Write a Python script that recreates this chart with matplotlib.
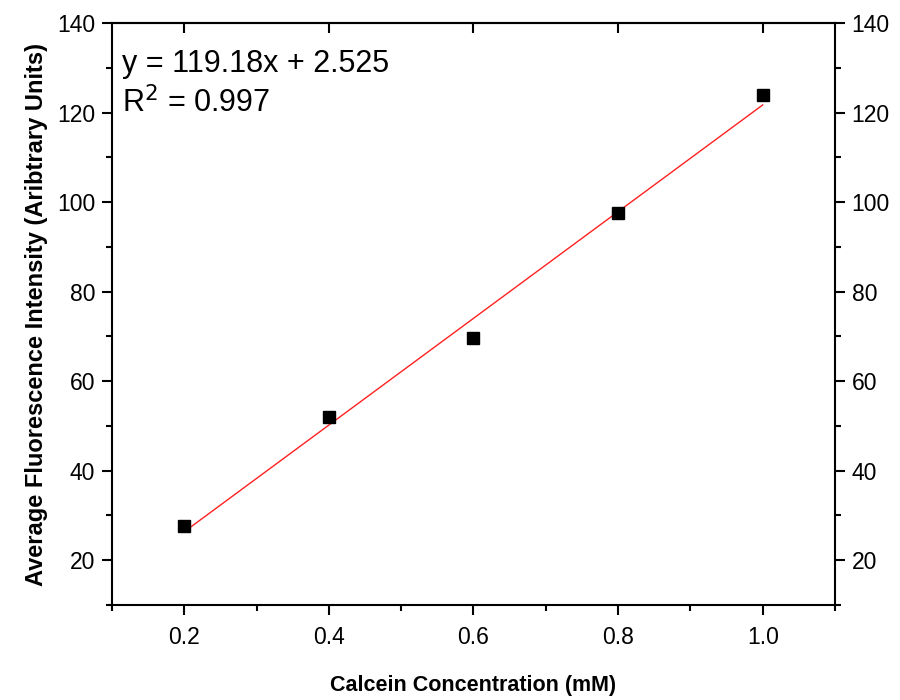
import numpy as np
import matplotlib.pyplot as plt
from matplotlib.ticker import MultipleLocator

plt.rcParams["font.family"] = ["Liberation Sans", "DejaVu Sans"]

# calcein concentration (mM) and mean fluorescence
conc = [0.2, 0.4, 0.6, 0.8, 1.0]
intensity = [27.6, 52.0, 69.7, 97.5, 124.0]
xtick_vals = [0.2, 0.4, 0.6, 0.8, 1.0]
xtick_labels = ["0.2", "0.4", "0.6", "0.8", "1.0"]

# linear fit reported on the chart
slope = 119.18
intercept = 2.525
r2 = 0.997

fig = plt.figure(figsize=(9, 7), dpi=100)
ax = fig.add_axes([0.1244, 0.1357, 0.8034, 0.8314])

xfit = np.array([conc[0], conc[-1]])
ax.plot(xfit, slope * xfit + intercept, color="#ff2020", lw=1.0, zorder=2)
ax.plot(conc, intensity, "s", color="black", ms=8.5, zorder=3)

ax.set_xlim(0.1, 1.1)
ax.set_ylim(10, 140)
ax.xaxis.set_minor_locator(MultipleLocator(0.1))
ax.yaxis.set_major_locator(MultipleLocator(20))
ax.yaxis.set_minor_locator(MultipleLocator(10))
ax.set_xticks(xtick_vals)
ax.set_xticklabels(xtick_labels)

for s in ax.spines.values():
    s.set_linewidth(1.5)

ax.tick_params(axis="both", which="major", direction="out", length=7, width=1.5,
               labelsize=16.5, pad=5)
ax.tick_params(axis="x", which="major", pad=8)
ax.tick_params(axis="both", which="minor", direction="out", length=4, width=1.5)
ax.tick_params(axis="y", which="both", right=True, labelright=True)

# top ticks point inward
sec = ax.secondary_xaxis("top")
sec.set_xticks(xtick_vals)
sec.tick_params(direction="in", length=7, width=1.5, labeltop=False)
sec.spines["top"].set_linewidth(1.5)

ax.set_xlabel("Calcein Concentration (mM)", fontsize=15.5, fontweight="bold")
ax.set_ylabel("Average Fluorescence Intensity (Aribtrary Units)", fontsize=17,
              fontweight="bold")
ax.xaxis.set_label_coords(0.5, -0.139)
ax.xaxis.label.set_va("center")
ax.yaxis.set_label_coords(-0.105, 0.5)
ax.yaxis.label.set_va("center")

ax.text(0.014, 0.916, f"y = {slope}x + {intercept}", transform=ax.transAxes,
        fontsize=22, va="baseline", ha="left")
ax.text(0.014, 0.847, f"R$^2$ = {r2}", transform=ax.transAxes,
        fontsize=22, va="baseline", ha="left")

fig.savefig("out.png", dpi=100)
